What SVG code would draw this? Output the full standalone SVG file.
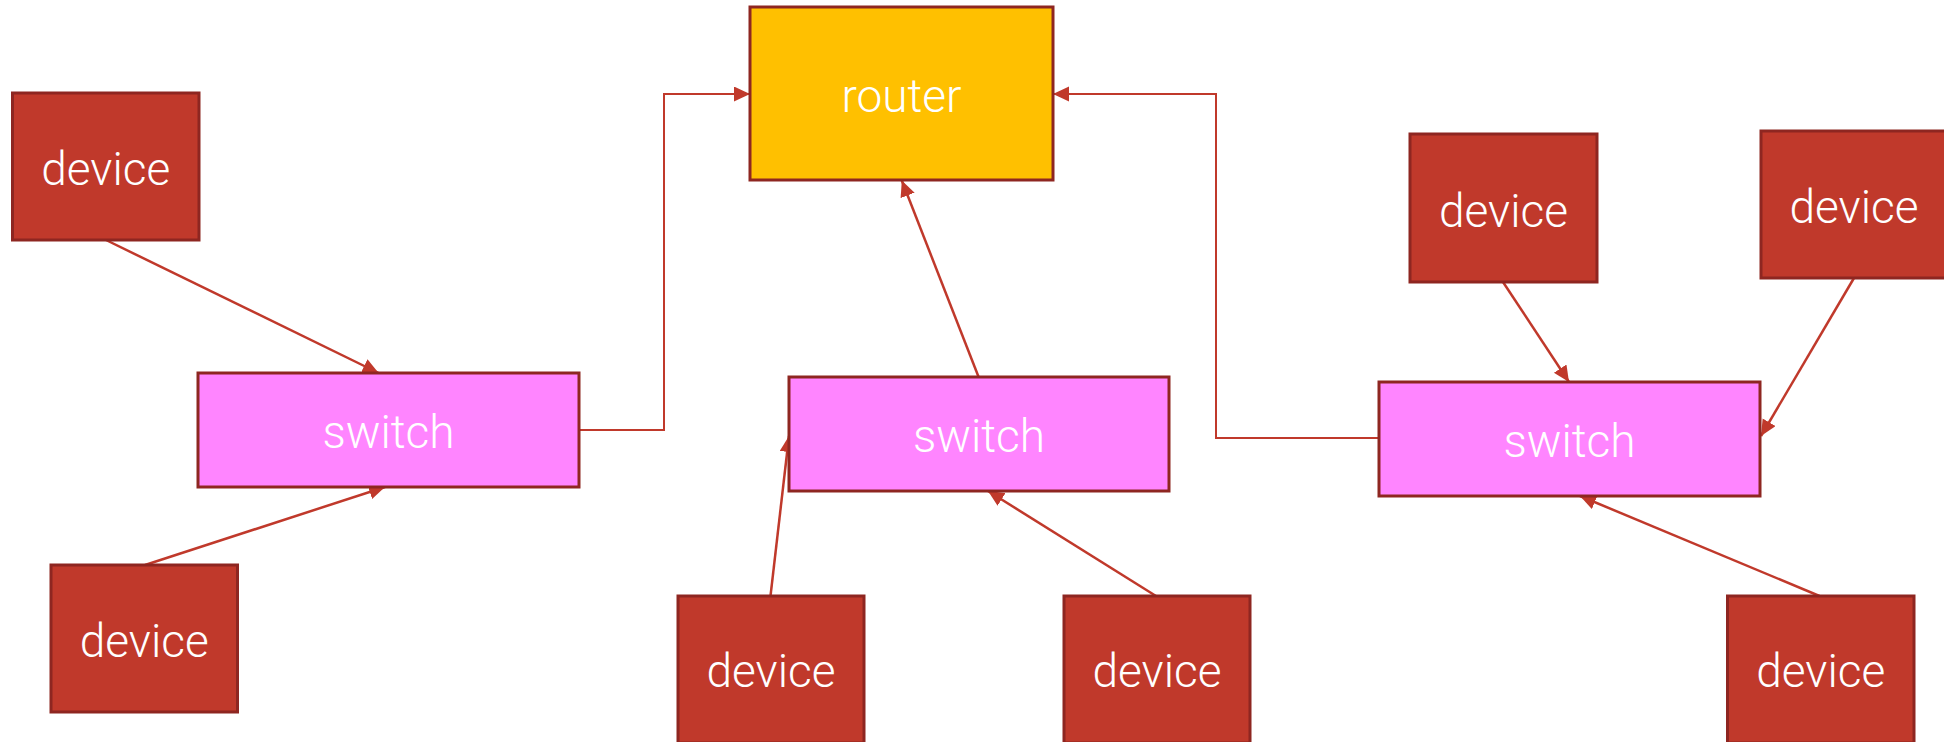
<svg xmlns="http://www.w3.org/2000/svg" width="1944" height="742" viewBox="0 0 1944 742">
<style>
.dev{fill:#C0392B;stroke:#8E2621;stroke-width:3}
.sw{fill:#FF85FF;stroke:#8E2621;stroke-width:3}
.rt{fill:#FFC000;stroke:#8E2621;stroke-width:3}
.lbl{font-family:Roboto,"Liberation Sans",Arial,sans-serif;font-weight:300;font-size:46px;fill:#FFFFFF;text-anchor:middle}
.con{fill:none;stroke:#C0392B;stroke-width:2.5;marker-end:url(#arr)}
.elb{stroke-width:2}
</style>
<defs>
<marker id="arr" markerUnits="userSpaceOnUse" markerWidth="17" markerHeight="16" refX="16" refY="7.5" orient="auto">
<path d="M0,0 L16,7.5 L0,15 z" fill="#C0392B"/>
</marker>
</defs>
<rect width="1944" height="742" fill="#FFFFFF"/>
<g id="connectors">
<polyline class="con elb" points="579,430 664,430 664,94 750,94"/>
<polyline class="con elb" points="1379,438 1216,438 1216,94 1053,94"/>
<line class="con" x1="106" y1="240" x2="378.6" y2="373"/>
<line class="con" x1="145" y1="565" x2="385" y2="487"/>
<line class="con" x1="978.6" y1="377" x2="901.8" y2="180.5"/>
<line class="con" x1="770.5" y1="596" x2="789" y2="436"/>
<line class="con" x1="1156" y1="596" x2="988" y2="491"/>
<line class="con" x1="1503" y1="282" x2="1569" y2="382"/>
<line class="con" x1="1854" y1="278" x2="1761" y2="436"/>
<line class="con" x1="1819.5" y1="596" x2="1580" y2="496"/>
</g>
<g id="router">
<rect class="rt" x="750" y="7" width="303" height="173"/>
<text class="lbl" x="901.5" y="112">router</text>
</g>
<g id="switch1">
<rect class="sw" x="198" y="373" width="381" height="114"/>
<text class="lbl" x="388.5" y="448">switch</text>
</g>
<g id="switch2">
<rect class="sw" x="789" y="377" width="380" height="114"/>
<text class="lbl" x="979" y="452">switch</text>
</g>
<g id="switch3">
<rect class="sw" x="1379" y="382" width="381" height="114"/>
<text class="lbl" x="1569.5" y="457">switch</text>
</g>
<g id="device1">
<rect class="dev" x="12.5" y="93" width="186.5" height="147"/>
<text class="lbl" x="105.75" y="185">device</text>
</g>
<g id="device2">
<rect class="dev" x="51" y="565" width="186.5" height="147"/>
<text class="lbl" x="144.25" y="657">device</text>
</g>
<g id="device3">
<rect class="dev" x="678" y="596" width="186" height="147"/>
<text class="lbl" x="771" y="687">device</text>
</g>
<g id="device4">
<rect class="dev" x="1064" y="596" width="186" height="147"/>
<text class="lbl" x="1157" y="687">device</text>
</g>
<g id="device5">
<rect class="dev" x="1410" y="134" width="187" height="148"/>
<text class="lbl" x="1503.5" y="226.5">device</text>
</g>
<g id="device6">
<rect class="dev" x="1761" y="131" width="186" height="147"/>
<text class="lbl" x="1854" y="223">device</text>
</g>
<g id="device7">
<rect class="dev" x="1727.5" y="596" width="186.5" height="147"/>
<text class="lbl" x="1820.75" y="687">device</text>
</g>
</svg>
